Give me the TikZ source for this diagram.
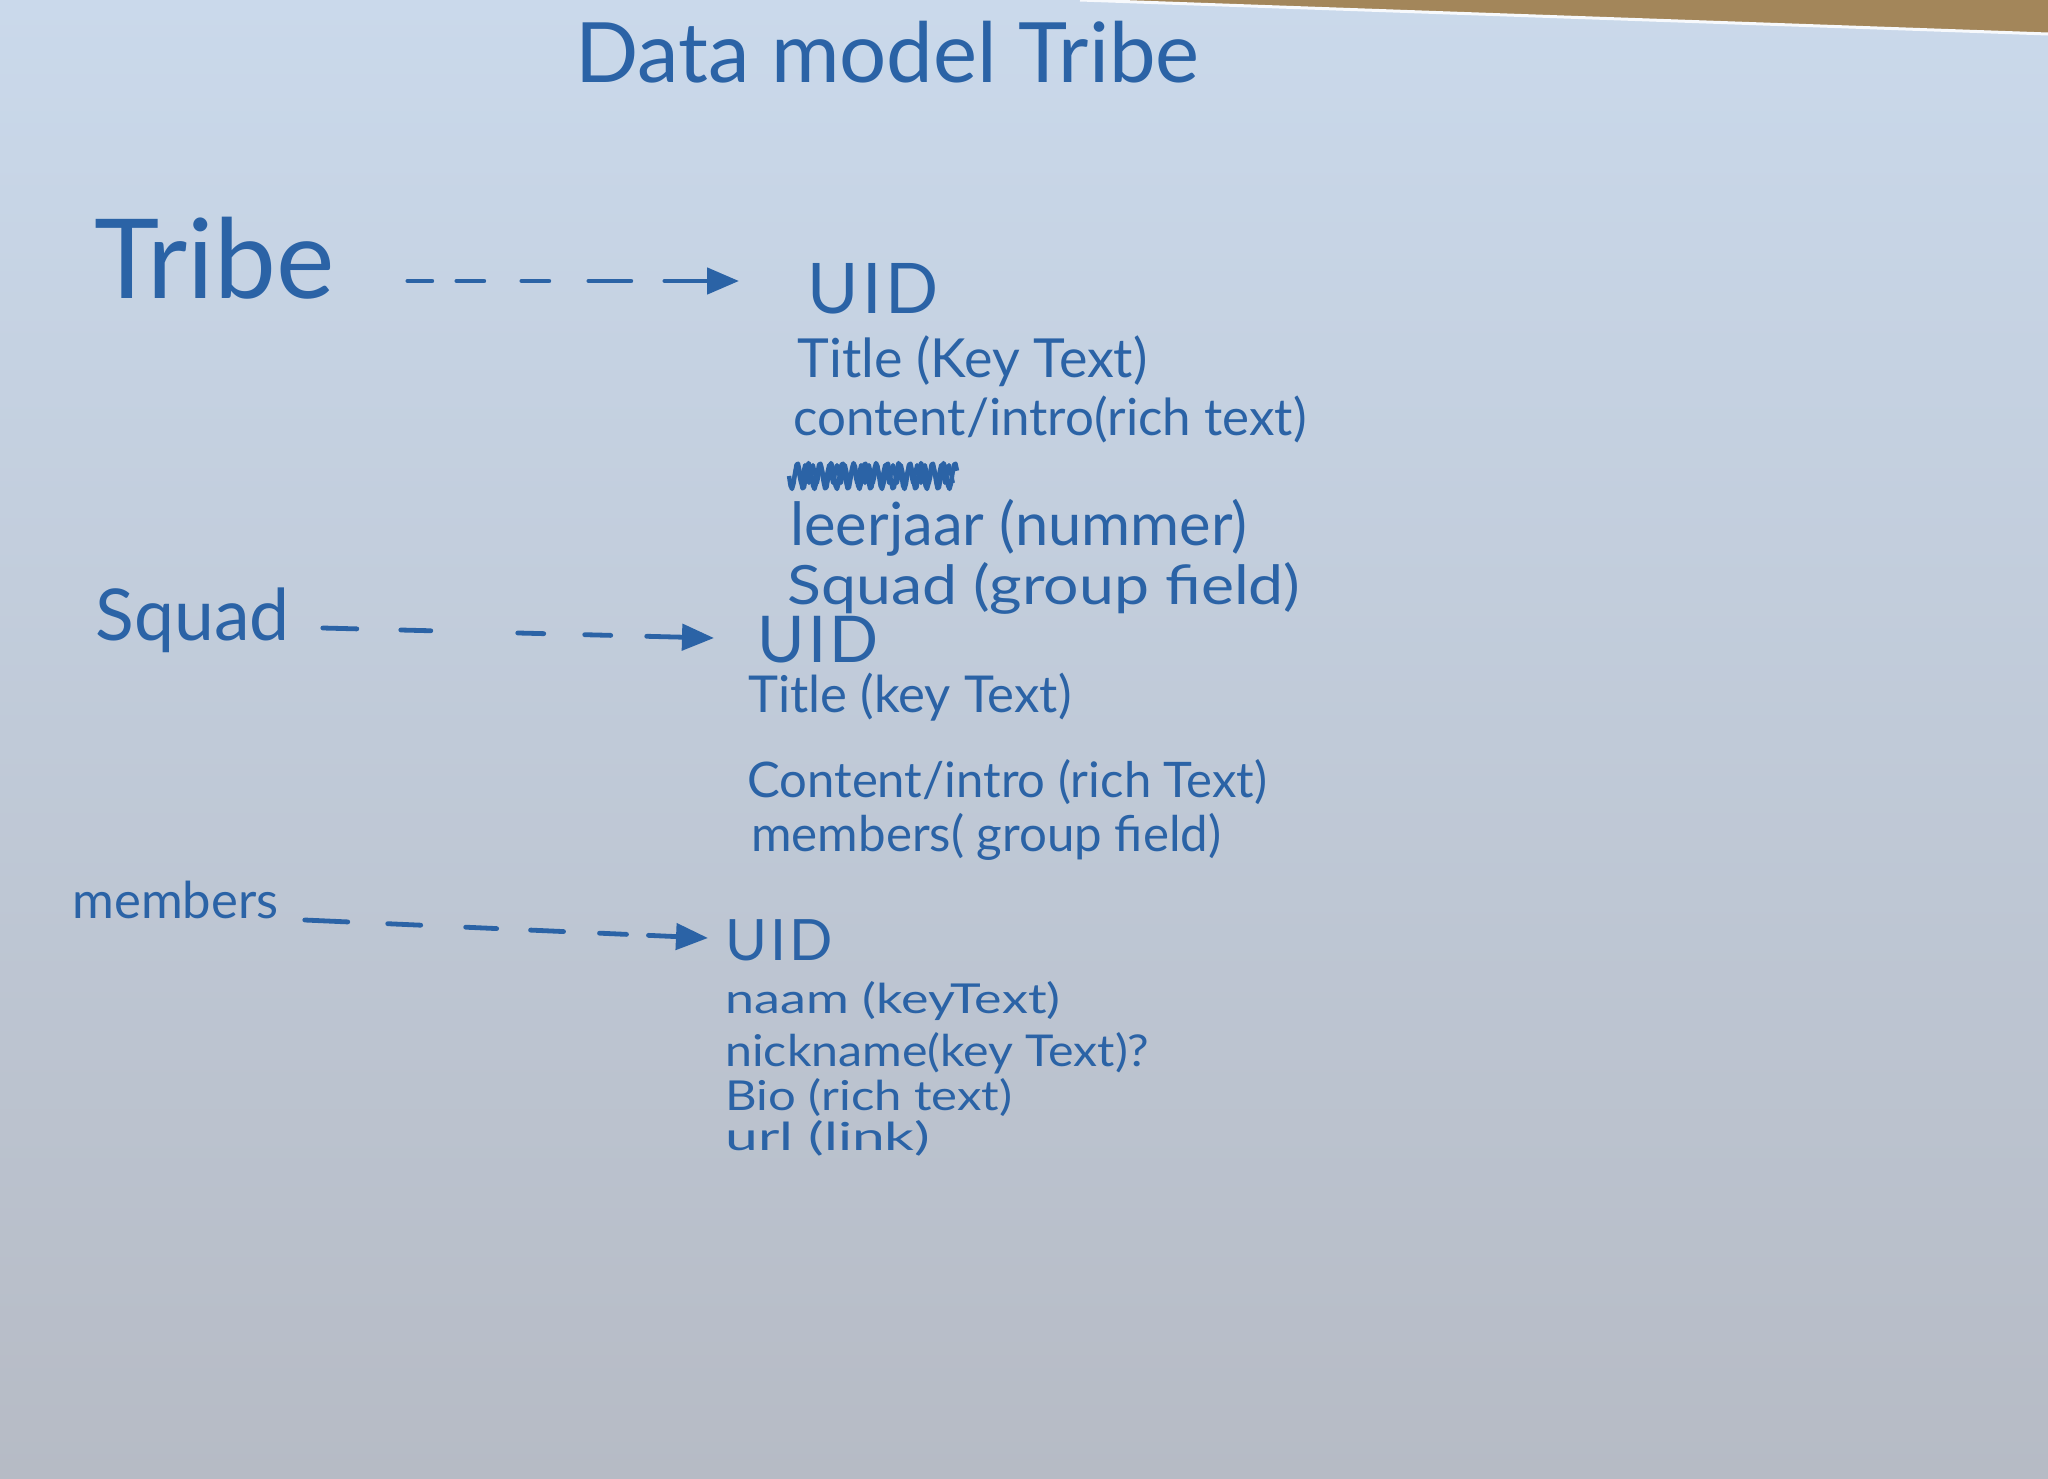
\documentclass[tikz,border=0pt]{standalone}
\usepackage{fontspec}
\setmainfont{Lato}
\usepackage{graphicx}
\usetikzlibrary{arrows.meta}
\definecolor{ink}{HTML}{2B63A6}
\definecolor{papertop}{HTML}{CAD9EB}
\definecolor{paperbot}{HTML}{B6BBC5}
\definecolor{wood}{HTML}{A3865A}
% \hw[height]{width}{text}: scale text to the handwriting's size
\newcommand{\hw}[3][!]{\resizebox{#2pt}{#1}{#3}}
\tikzset{
  txt/.style={anchor=base west, inner sep=0pt, text=ink, font=\fontsize{20}{24}\selectfont},
  arr/.style={draw=ink, line width=2.4pt, line cap=round, -{Triangle[length=16pt,width=13pt]}},
}
\begin{document}
\begin{tikzpicture}[x=0.5pt,y=-0.5pt]
\useasboundingbox (0,0) rectangle (2048,1478);
\shade[top color=papertop, bottom color=paperbot] (0,0) rectangle (2048,1478);
\fill[wood] (1080,0) -- (2048,0) -- (2048,34) -- cycle;
\draw[white!85!papertop, line width=1.5pt] (1080,0) -- (2048,34);

% title
\node[txt] (title) at (575,82) {\hw{312}{Data model Tribe}};

% entity labels
\node[txt] (tribe) at (94,298) {\hw{120}{Tribe}};
\node[txt] (squad) at (95,640) {\hw{97}{Squad}};
\node[txt] (members) at (72,918) {\hw{103}{members}};

% Tribe fields
\node[txt] (tuid) at (807,313) {\hw{65.5}{U\kern1pt I\kern1pt D}};
\node[txt] (ttitle) at (797,377) {\hw{175}{Title (Key Text)}};
\node[txt] (tcontent) at (793,435) {\hw{256.5}{content/intro(rich text)}};
\node[txt] (tleer) at (790,545) {\hw{228.5}{leerjaar (nummer)}};
\node[txt] (tsquad) at (787,604) {\hw[21pt]{256.5}{Squad (group field)}};

% crossed-out word
\draw[ink, line width=2.2pt, line join=round]
  plot[domain=0:168, samples=113] ({789+\x},{476+13*sin(\x*32)});
\draw[ink, line width=2pt, line join=round]
  plot[domain=0:160, samples=81] ({793+\x},{474+9*cos(\x*45)});

% Squad fields
\node[txt] (suid) at (757,662) {\hw{60.5}{U\kern1pt I\kern1pt D}};
\node[txt] (stitle) at (748,712) {\hw{161.5}{Title (key Text)}};
\node[txt] (scontent) at (747,797) {\hw{260}{Content/intro (rich Text)}};
\node[txt] (smembers) at (751,851) {\hw{235}{members( group field)}};

% Members fields
\node[txt] (muid) at (725,960) {\hw{53.5}{U\kern1pt I\kern1pt D}};
\node[txt] (mnaam) at (725,1013) {\hw[16pt]{167.5}{naam (keyText)}};
\node[txt] (mnick) at (725,1066) {\hw[17pt]{212}{nickname(key Text)?}};
\node[txt] (mbio) at (725,1110) {\hw[16pt]{143.5}{Bio (rich text)}};
\node[txt] (murl) at (725,1150) {\hw[15pt]{102.5}{url (link)}};

% connectors
\draw[arr, dash pattern=on 12pt off 12.5pt on 13.5pt off 19pt on 13.5pt off 20pt on 21pt off 17pt on 100pt]
  ([shift={(73,-17)}]tribe.base east) -- ([shift={(-68,-32)}]tuid.base west);
\draw[arr, dash pattern=on 17pt off 22pt on 15pt off 43.5pt on 13pt off 20.5pt on 13pt off 18pt on 100pt]
  ([shift={(33,-12)}]squad.base east) -- ([shift={(-43,-24)}]suid.base west);
\draw[arr, dash pattern=on 21.5pt off 20pt on 16.5pt off 22.5pt on 15.5pt off 17pt on 16.5pt off 18pt on 13.5pt off 11pt on 100pt]
  ([shift={(26,2)}]members.base east) -- ([shift={(-17,-22)}]muid.base west);
\end{tikzpicture}
\end{document}
